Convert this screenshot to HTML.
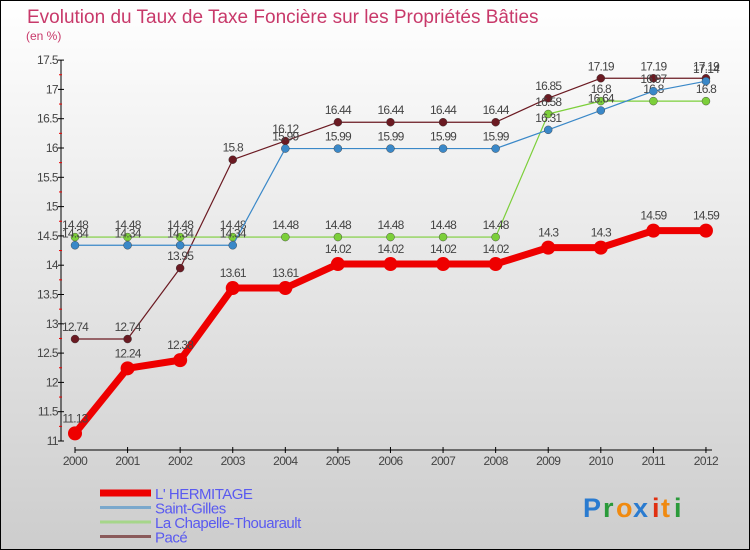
<!DOCTYPE html>
<html><head><meta charset="utf-8"><style>
body{margin:0}
#wrap{width:750px;height:550px;position:relative;overflow:hidden}
text{font-family:"Liberation Sans",sans-serif}
</style></head><body>
<div id="wrap">
<svg id="svg" width="750" height="550" xmlns="http://www.w3.org/2000/svg">
<defs><linearGradient id="bg" x1="0" y1="0" x2="0" y2="1"><stop offset="0" stop-color="#ffffff"/><stop offset="1" stop-color="#cdcdcd"/></linearGradient></defs>
<rect x="0.5" y="0.5" width="749" height="549" fill="url(#bg)" stroke="#000"/>
<text x="27" y="23" font-size="19" fill="#c8396a">Evolution du Taux de Taxe Foncière sur les Propriétés Bâties</text>
<text x="26" y="40" font-size="12" fill="#c8396a">(en %)</text>
<g id="axes"></g>
<g id="series"></g>
<g id="legend"></g>
<g font-size="27" font-weight="bold">
<text x="583" y="517" fill="#2a7bd0">P</text><text x="603" y="517" fill="#2a9a3a">r</text><text x="616" y="517" fill="#f08a10">o</text><text x="633" y="517" fill="#2a7bd0">x</text><text x="652" y="517" fill="#e03010">i</text><text x="661" y="517" fill="#f08a10">t</text><text x="674" y="517" fill="#2a9a3a">i</text>
</g>
</svg>
</div>
<script>
const years=["2000","2001","2002","2003","2004","2005","2006","2007","2008","2009","2010","2011","2012"];
const yTicks=[11,11.5,12,12.5,13,13.5,14,14.5,15,15.5,16,16.5,17,17.5];
const hermitage=[11.13,12.24,12.38,13.61,13.61,14.02,14.02,14.02,14.02,14.3,14.3,14.59,14.59];
const saintGilles=[14.34,14.34,14.34,14.34,15.99,15.99,15.99,15.99,15.99,16.31,16.64,16.97,17.14];
const chapelle=[14.48,14.48,14.48,14.48,14.48,14.48,14.48,14.48,14.48,16.58,16.8,16.8,16.8];
const pace=[12.74,12.74,13.95,15.8,16.12,16.44,16.44,16.44,16.44,16.85,17.19,17.19,17.19];
const seriesNames=["L' HERMITAGE","Saint-Gilles","La Chapelle-Thouarault","Pacé"];

const NS="http://www.w3.org/2000/svg";
const x=i=>75+i*52.58;
const y=v=>441-(v-11)*58.6;
function mk(tag,attrs,parent){const e=document.createElementNS(NS,tag);for(const k in attrs)e.setAttribute(k,attrs[k]);parent.appendChild(e);return e;}
const axes=document.getElementById('axes');
let a=mk('line',{x1:61,y1:y(17.5),x2:61,y2:y(11),stroke:'#000'},axes);

a=mk('line',{x1:75,y1:450,x2:712,y2:450,stroke:'#000'},axes);

yTicks.forEach((t,i)=>{
  mk('line',{x1:58,y1:y(t),x2:64,y2:y(t),stroke:'#000'},axes);
  if(i<yTicks.length-1)mk('line',{x1:59,y1:y(t+0.25),x2:62,y2:y(t+0.25),stroke:'#e00'},axes);
  const tx=mk('text',{x:58,y:y(t)+4,'font-size':12,fill:'#444','text-anchor':'end','letter-spacing':'-0.6'},axes);
  tx.textContent=String(t);
  
});
years.forEach((yr,i)=>{
  mk('line',{x1:x(i),y1:447,x2:x(i),y2:453,stroke:'#000'},axes);
  const tx=mk('text',{x:x(i),y:465,'font-size':12,fill:'#444','text-anchor':'middle','letter-spacing':'-0.6'},axes);
  tx.textContent=yr;
  
});
const sg=document.getElementById('series');
const defs=[
 {d:pace,c:'#6b1a22',w:1.2,r:4,n:'pace'},
 {d:chapelle,c:'#7ccf3a',w:1.2,r:4,n:'la-chapelle-thouarault'},
 {d:saintGilles,c:'#3a88c8',w:1.2,r:4,n:'saint-gilles'},
 {d:hermitage,c:'#ee0000',w:7,r:7,n:'l-hermitage'}
];
defs.forEach(s=>{
  const g=mk('g',{},sg);
  
  const pl=mk('polyline',{points:s.d.map((v,i)=>x(i)+','+y(v)).join(' '),fill:'none',stroke:s.c,'stroke-width':s.w,'stroke-linejoin':'round'},g);
  
  s.d.forEach((v,i)=>{
    const c=mk('circle',{cx:x(i),cy:y(v),r:s.r,fill:s.c,stroke:s.w>2?'none':'#333','stroke-width':0.4},g);
    
    const t=mk('text',{x:x(i),y:y(v)-(s.w>2?11:8),'font-size':12,fill:'#444','text-anchor':'middle','letter-spacing':'-0.8'},g);
    t.textContent=String(v);
    
  });
});
const lg=document.getElementById('legend');
const lc=['#ee0000','#7aa8cc','#a6d68a','#8a5a5a'],lw=[7,3,3,3];
seriesNames.forEach((n,i)=>{
  const g=mk('g',{},lg);
  
  mk('line',{x1:100,y1:493+i*14.5,x2:151,y2:493+i*14.5,stroke:lc[i],'stroke-width':lw[i]},g);
  const t=mk('text',{x:155,y:499+i*14.5,'font-size':15,fill:'#5a5af0','letter-spacing':'-0.5'},g);
  t.textContent=n;
});
</script>
</body></html>
